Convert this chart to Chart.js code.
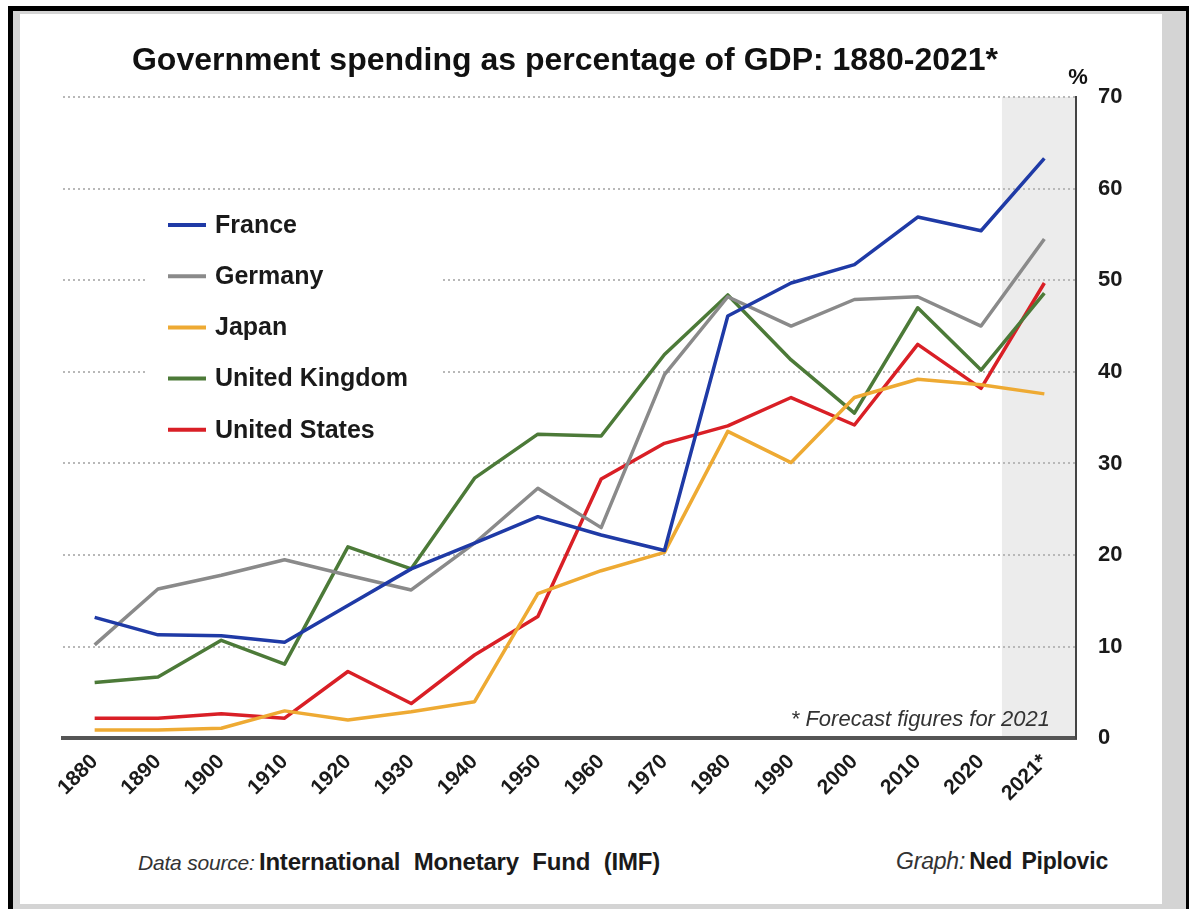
<!DOCTYPE html>
<html>
<head>
<meta charset="utf-8">
<script src="https://cdn.jsdelivr.net/npm/chart.js@4.4.1/dist/chart.umd.min.js"></script>
<style>
  body { margin: 0; background: #fff; font-family: "Liberation Sans", Arial, sans-serif; }
  #frame { position: absolute; left: 8px; top: 6px; width: 1173px; height: 910px;
           border: 5px solid #000; border-bottom: none; background: #d4d4d4; }
  #paper { position: absolute; left: 7px; top: 3px; width: 1142px; height: 890px; background: #fff; }
  #wrap { position: absolute; left: 0; top: 0; width: 1142px; height: 803px; }
  .foot { position: absolute; top: 834px; color: #1a1a1a; white-space: nowrap; letter-spacing: -0.2px; }
  .foot i { font-weight: normal; color: #333; font-size: 21px; }
  .foot b { font-weight: bold; }
</style>
</head>
<body>
<div id="frame">
  <div id="paper">
    <div id="wrap"><canvas id="myChart" width="1142" height="803"></canvas></div>
    <div class="foot" style="left:118px"><i>Data source:</i> <b style="font-size:24px;word-spacing:7px">International Monetary Fund (IMF)</b></div>
    <div class="foot" style="right:54px"><i style="font-size:23px">Graph:</i> <b style="font-size:23px;word-spacing:3px">Ned Piplovic</b></div>
  </div>
</div>
<script>
  // values (% of GDP)
  const years = ['1880', '1890', '1900', '1910', '1920', '1930', '1940', '1950',
                 '1960', '1970', '1980', '1990', '2000', '2010', '2020', '2021*'];
  const france  = [13.2, 11.3, 11.2, 10.5, 14.5, 18.5, 21.3, 24.2, 22.2, 20.5, 46.1, 49.7, 51.7, 56.9, 55.4, 63.3];
  const germany = [10.2, 16.3, 17.8, 19.5, 17.8, 16.2, 21.3, 27.3, 23.0, 39.7, 48.2, 45.0, 47.9, 48.2, 45.0, 54.5];
  const japan   = [0.9, 0.9, 1.1, 3.0, 2.0, 2.9, 4.0, 15.8, 18.3, 20.3, 33.5, 30.1, 37.2, 39.2, 38.6, 37.6];
  const uk      = [6.1, 6.7, 10.7, 8.1, 20.9, 18.5, 28.4, 33.2, 33.0, 41.9, 48.4, 41.3, 35.5, 47.0, 40.2, 48.6];
  const us      = [2.2, 2.2, 2.7, 2.2, 7.3, 3.8, 9.1, 13.3, 28.3, 32.2, 34.1, 37.2, 34.2, 43.0, 38.2, 49.7];

  const titleText = 'Government spending as percentage of GDP: 1880-2021*';
  const noteText = '* Forecast figures for 2021';
  const FONT = '"Liberation Sans", Arial, sans-serif';

  const mkLine = (label, data, color) => ({
    label, data, borderColor: color, backgroundColor: color,
    borderWidth: 3.5, pointRadius: 0, tension: 0, borderJoinStyle: 'round'
  });

  // forecast band, legend, title, note
  const decor = {
    id: 'decor',
    beforeDraw(chart) {
      const { ctx, chartArea: a, scales: { x } } = chart;
      const step = x.getPixelForValue(15) - x.getPixelForValue(14);
      const start = x.getPixelForValue(14) + step * 0.33;
      ctx.save();
      ctx.fillStyle = '#ececec';
      ctx.fillRect(start, a.top, a.right - start, a.bottom - a.top);
      ctx.restore();
    },
    beforeDatasetsDraw(chart) {
      const { ctx } = chart;
      ctx.save();
      ctx.fillStyle = '#fff';
      ctx.fillRect(128, 190, 295, 252);
      ctx.restore();
    },
    afterDraw(chart) {
      const { ctx, chartArea: a } = chart;
      ctx.save();
      // legend
      ctx.font = 'bold 25px ' + FONT;
      ctx.textBaseline = 'middle';
      chart.data.datasets.forEach((ds, i) => {
        const y = 211 + i * 51.2;
        ctx.strokeStyle = ds.borderColor;
        ctx.lineWidth = 4;
        ctx.beginPath();
        ctx.moveTo(148, y);
        ctx.lineTo(186, y);
        ctx.stroke();
        ctx.fillStyle = '#1a1a1a';
        ctx.fillText(ds.label, 195, y + 1);
      });
      // title
      ctx.font = 'bold 32px ' + FONT;
      ctx.textAlign = 'center';
      ctx.fillStyle = '#111';
      ctx.fillText(titleText, 545, 47);
      // % unit
      ctx.font = 'bold 22px ' + FONT;
      ctx.fillText('%', a.right + 2, 64);
      // forecast note
      ctx.font = 'italic 22px ' + FONT;
      ctx.textAlign = 'right';
      ctx.fillStyle = '#333';
      ctx.fillText(noteText, a.right - 26, a.bottom - 18);
      ctx.restore();
    }
  };

  const ctx = document.getElementById('myChart').getContext('2d');

  const myChart = new Chart(ctx, {
    type: 'line',
    data: {
      labels: years,
      datasets: [
        mkLine('France', france, '#1f3aa6'),
        mkLine('Germany', germany, '#8a8a8a'),
        mkLine('Japan', japan, '#eeaa33'),
        mkLine('United Kingdom', uk, '#4c7a38'),
        mkLine('United States', us, '#d91f26')
      ]
    },
    options: {
      responsive: false,
      animation: false,
      devicePixelRatio: 1,
      layout: { padding: { left: 43, right: 26, top: 83, bottom: 0 } },
      plugins: {
        legend: { display: false },
        title: { display: false },
        tooltip: { enabled: false }
      },
      scales: {
        x: {
          offset: true,
          grid: { display: false, drawTicks: false },
          border: { display: true, color: '#555', width: 4 },
          ticks: {
            color: '#1a1a1a',
            font: { family: FONT, size: 21, weight: 'bold' },
            maxRotation: 45, minRotation: 45, padding: 11, autoSkip: false
          }
        },
        y: {
          position: 'right',
          min: 0, max: 70,
          afterFit(scale) { scale.width = 60; },
          grid: { color: '#b8b8b8', lineWidth: 2, drawTicks: false },
          border: { display: true, color: '#444', width: 2, dash: [2, 3] },
          ticks: {
            stepSize: 10, padding: 22, color: '#1a1a1a',
            font: { family: FONT, size: 22, weight: 'bold' }
          }
        }
      }
    },
    plugins: [decor]
  });
</script>
</body>
</html>
